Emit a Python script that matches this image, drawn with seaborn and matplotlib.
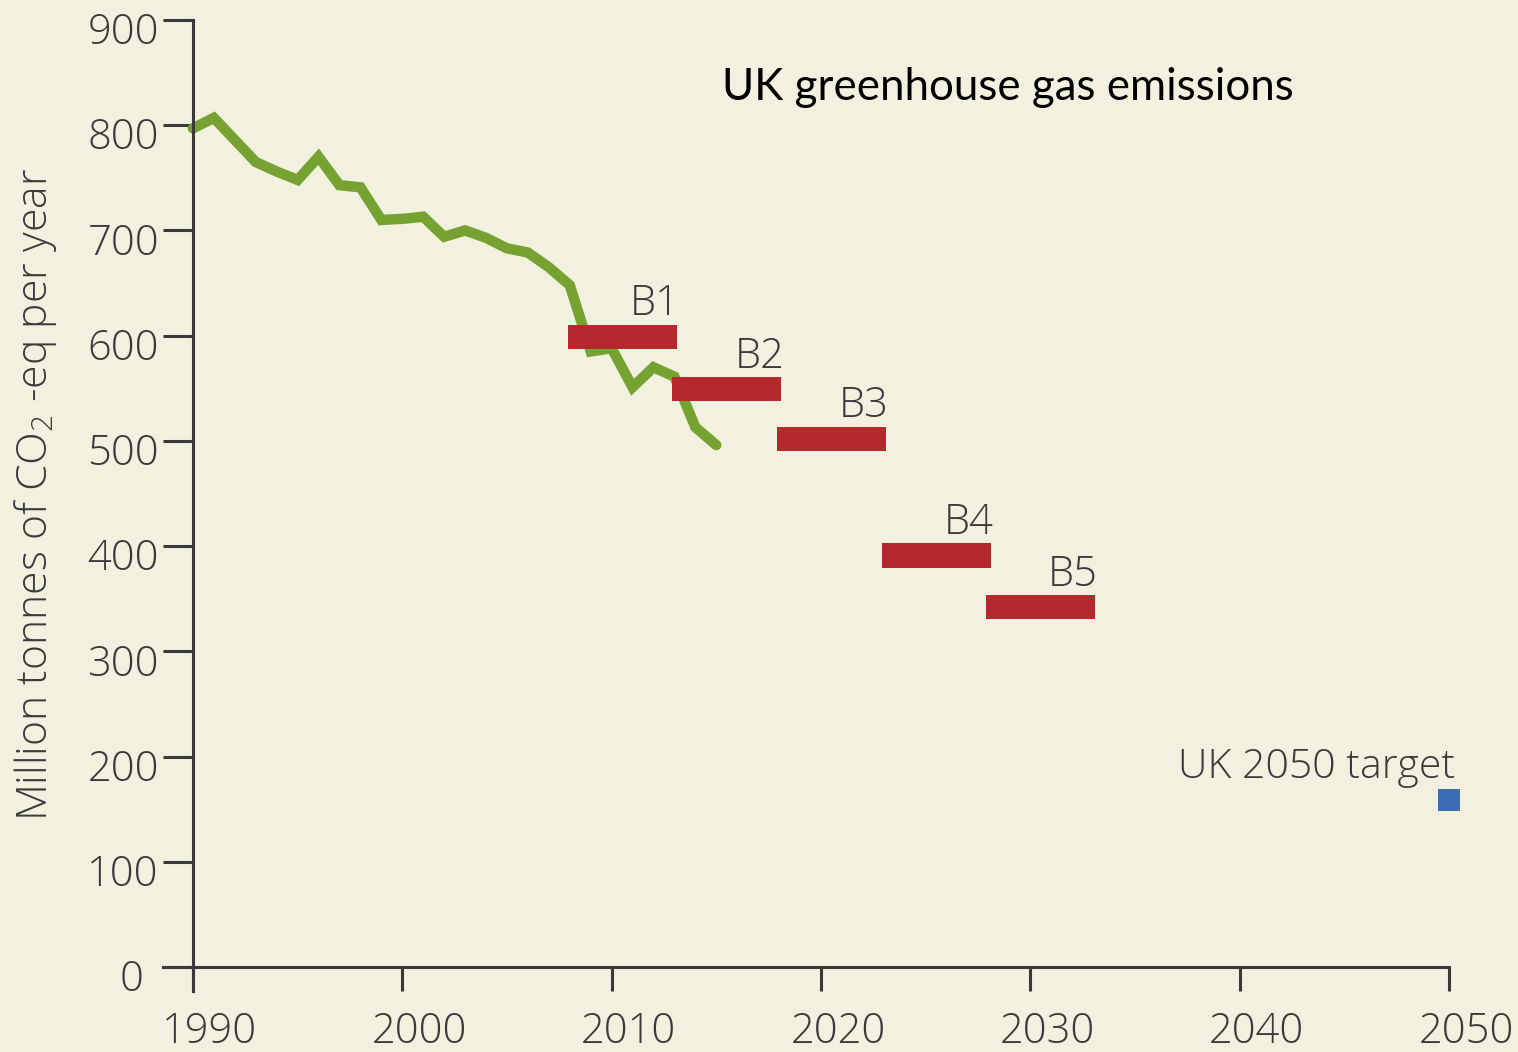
import numpy as np
import pandas as pd
import matplotlib.pyplot as plt
import matplotlib.transforms as mtransforms
import seaborn as sns

# --- DATA ---
years = list(range(1990, 2016))
emissions = [797, 807, 786, 765, 756, 748, 770, 743, 741, 710,
             711, 713, 694, 700, 693, 683, 679, 665, 648, 585,
             588, 551, 570, 561, 513, 496]

budget_names = ['B1', 'B2', 'B3', 'B4', 'B5']
budget_start = [2008, 2013, 2018, 2023, 2028]
budget_level = [599, 549, 502, 391, 342]

target_year = [2050]
target_value = [159]

x_ticks = list(range(1990, 2051, 10))
y_ticks = list(range(0, 901, 100))

# --- STYLE ---
BG = '#F2F0DF'
GREEN = '#76A232'
RED = '#B3292E'
BLUE = '#3D6CB4'
INK = '#3a3a3a'

sns.set_theme(style='white')
plt.rcParams['font.family'] = ['Open Sans', 'DejaVu Sans']
plt.rcParams['mathtext.fontset'] = 'custom'
plt.rcParams['mathtext.rm'] = 'Open Sans'

W, H = 1518, 1052
fig = plt.figure(figsize=(W / 100, H / 100), dpi=100, facecolor=BG)
ax = fig.add_axes([163 / W, 1 - 991 / H, (1449 - 163) / W, (991 - 20) / H])
ax.set_facecolor(BG)

# emissions line
df = pd.DataFrame({'year': years, 'emissions': emissions})
sns.lineplot(data=df, x='year', y='emissions', color=GREEN, linewidth=7.5,
             solid_capstyle='round', solid_joinstyle='miter', ax=ax, zorder=2)

# carbon budgets (drawn over the line)
ax.barh(budget_level, width=5.2, left=np.array(budget_start) - 0.1, height=23,
        color=RED, edgecolor='none', linewidth=0, zorder=3)
for name, start, lvl in zip(budget_names, budget_start, budget_level):
    ax.text(start + 4.05, lvl + 31, name, ha='center', va='center',
            fontsize=30, color=INK, fontweight='light')

# 2050 target
sns.scatterplot(x=target_year, y=target_value, marker='s', s=250, color=BLUE,
                edgecolor='none', clip_on=False, ax=ax, zorder=4)
ax.text(2050.3, 190, 'UK 2050 target', ha='right', va='center',
        fontsize=29.5, color=INK, fontweight='light')

# axes
ax.set_xlim(1988.57, 2050)
ax.set_ylim(-22.8, 900)
ax.set_xticks(x_ticks)
ax.set_yticks(y_ticks)
ax.set_xlabel('')
ax.set_ylabel('')
for s in ['top', 'right']:
    ax.spines[s].set_visible(False)
ax.spines['left'].set_position(('data', 1990))
ax.spines['bottom'].set_position(('data', 0))
for s in ['left', 'bottom']:
    ax.spines[s].set_color(INK)
    ax.spines[s].set_linewidth(2.2)
ax.tick_params(axis='x', direction='out', length=17.5, width=2.2, color=INK,
               labelsize=30, labelcolor=INK, pad=14, bottom=True)
ax.tick_params(axis='y', direction='out', length=21.5, width=2.2, color=INK,
               labelsize=30, labelcolor=INK, pad=3, left=True)
ax.grid(False)

x_shift = mtransforms.ScaledTranslation(17 / 100, 0, fig.dpi_scale_trans)
for lab in ax.get_xticklabels():
    lab.set_transform(lab.get_transform() + x_shift)
    lab.set_fontweight('light')
for lab in ax.get_yticklabels():
    dx = -15 / 100 if lab.get_text() == '0' else 0
    lab.set_transform(lab.get_transform() +
                      mtransforms.ScaledTranslation(dx, -8 / 100, fig.dpi_scale_trans))
    lab.set_fontweight('light')

fig.text(36 / W, 1 - 494 / H, r'Million tonnes of CO$_\mathregular{2}$ -eq per year',
         rotation=90, ha='center', va='center', fontsize=30.8, color=INK,
         fontweight='light')
fig.text(1008 / W, 1 - 88 / H, 'UK greenhouse gas emissions', ha='center',
         va='center', fontsize=31.6, color='black', family='Lato')

fig.savefig('out.png', dpi=100, facecolor=BG)
